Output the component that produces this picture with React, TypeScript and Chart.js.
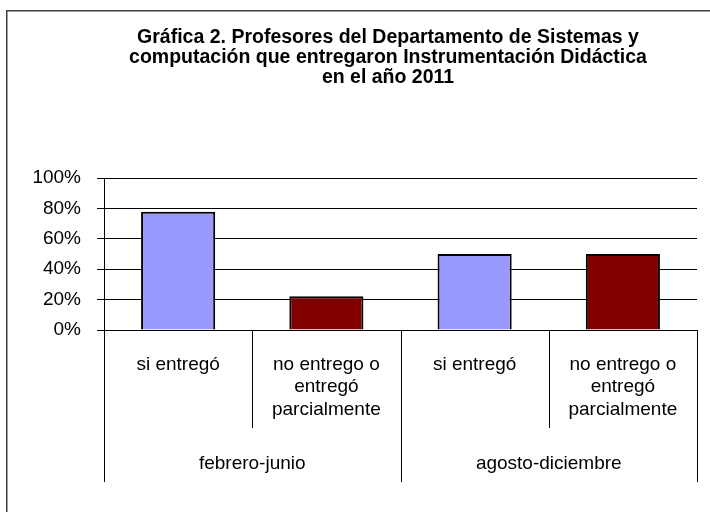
import React, { useEffect, useRef } from 'react';
import { Chart, registerables } from 'chart.js';

Chart.register(...registerables);

const titleLines = [
  'Gráfica 2. Profesores del Departamento de Sistemas y',
  'computación que entregaron Instrumentación Didáctica',
  'en el año 2011',
];
const categories = [
  ['si entregó'],
  ['no entrego o', 'entregó', 'parcialmente'],
  ['si entregó'],
  ['no entrego o', 'entregó', 'parcialmente'],
];
const groups = ['febrero-junio', 'agosto-diciembre'];
const groupSizes = [2, 2];
const values = [0.778, 0.222, 0.5, 0.5];
const barColors = ['#9999FF', '#800000', '#9999FF', '#800000'];
const yTicks = [0, 0.2, 0.4, 0.6, 0.8, 1];

const FONT = '"Liberation Sans", Arial, sans-serif';

const deco = {
  id: 'deco',
  beforeDraw(chart: any) {
    const ctx = chart.ctx;
    ctx.save();
    ctx.fillStyle = '#fff';
    ctx.fillRect(0, 0, chart.width, chart.height);
    ctx.strokeStyle = '#404040';
    ctx.lineWidth = 1.5;
    ctx.strokeRect(6.75, 10.75, chart.width + 40, chart.height + 40);
    ctx.restore();
  },
  afterDraw(chart: any) {
    const ctx = chart.ctx;
    const x = chart.scales.x;
    const area = chart.chartArea;
    ctx.save();
    ctx.strokeStyle = '#000';
    ctx.lineWidth = 1;
    const half = (x.getPixelForValue(1) - x.getPixelForValue(0)) / 2;
    const groupBounds = new Set<number>([0]);
    let acc = 0;
    groupSizes.forEach((s) => {
      acc += s;
      groupBounds.add(acc);
    });
    const boundary = (i: number) =>
      i < categories.length ? x.getPixelForValue(i) - half : x.getPixelForValue(i - 1) + half;
    for (let i = 0; i <= categories.length; i++) {
      const px = Math.round(boundary(i)) + 0.5;
      const bottom = groupBounds.has(i) ? area.bottom + 152 : area.bottom + 98;
      ctx.beginPath();
      ctx.moveTo(px, area.bottom);
      ctx.lineTo(px, bottom);
      ctx.stroke();
    }
    ctx.fillStyle = '#000';
    ctx.textAlign = 'center';
    ctx.textBaseline = 'middle';
    ctx.font = `19px ${FONT}`;
    let start = 0;
    groups.forEach((g, gi) => {
      const l = boundary(start);
      const r = boundary(start + groupSizes[gi]);
      ctx.fillText(g, (l + r) / 2, area.bottom + 134);
      start += groupSizes[gi];
    });
    ctx.font = `bold 19.5px ${FONT}`;
    titleLines.forEach((t, i) => {
      ctx.fillText(t, 388, 38 + i * 20);
    });
    ctx.restore();
  },
};

export default function App() {
  const ref = useRef<HTMLCanvasElement>(null);
  useEffect(() => {
    document.body.style.margin = '0';
    const chart = new Chart(ref.current as HTMLCanvasElement, {
      type: 'bar',
      data: {
        labels: categories as any,
        datasets: [
          {
            data: values,
            backgroundColor: barColors,
            borderColor: '#000',
            borderWidth: 2,
            barPercentage: 0.5,
            categoryPercentage: 1,
          },
        ],
      },
      options: {
        animation: false,
        responsive: false,
        maintainAspectRatio: false,
        layout: { padding: { left: 7, top: 178, right: 13, bottom: 0 } },
        plugins: { legend: { display: false }, tooltip: { enabled: false }, title: { display: false } },
        scales: {
          x: {
            grid: { display: false, drawTicks: false },
            border: { display: true, color: '#000' },
            ticks: {
              color: '#000',
              font: { family: FONT, size: 19, lineHeight: 1.2 },
              padding: 23,
              maxRotation: 0,
              autoSkip: false,
            },
            afterFit: (s: any) => {
              s.height = 182;
            },
          },
          y: {
            min: 0,
            max: 1,
            grid: { color: '#000', lineWidth: 1, tickLength: 7, drawTicks: true },
            border: { display: true, color: '#000' },
            ticks: {
              color: '#000',
              font: { family: FONT, size: 19 },
              padding: 16,
              callback: (v: any) => Math.round(Number(v) * 100) + '%',
            },
            afterBuildTicks: (s: any) => {
              s.ticks = yTicks.map((v) => ({ value: v }));
            },
            afterFit: (s: any) => {
              s.width = 97;
            },
          },
        },
      },
      plugins: [deco],
    });
    return () => chart.destroy();
  }, []);
  return (
    <div style={{ width: 710, height: 512 }}>
      <canvas ref={ref} width={710} height={512} style={{ display: 'block' }} />
    </div>
  );
}
